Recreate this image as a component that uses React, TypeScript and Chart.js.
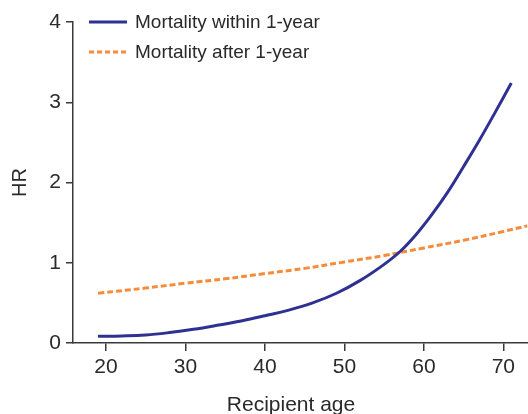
import React, { useEffect, useRef } from "react";
import { Chart, registerables } from "chart.js";

Chart.register(...registerables);

const withinAges = [19, 22, 25, 28, 31, 34, 37, 40, 43, 46, 49, 52, 55, 57, 59, 61, 63, 65, 67, 69, 71];
const withinHR = [0.083, 0.088, 0.1, 0.13, 0.17, 0.22, 0.275, 0.34, 0.41, 0.5, 0.62, 0.78, 0.98, 1.14, 1.35, 1.6, 1.88, 2.2, 2.53, 2.88, 3.24];

const afterAges = [19, 25, 30, 35, 40, 45, 50, 55, 60, 65, 70, 73];
const afterHR = [0.62, 0.685, 0.745, 0.8, 0.865, 0.93, 1.01, 1.09, 1.185, 1.28, 1.39, 1.46];

const xTicks = [20, 30, 40, 50, 60, 70];
const yTicks = [0, 1, 2, 3, 4];

const seriesNames = ["Mortality within 1-year", "Mortality after 1-year"];
const xTitle = "Recipient age";
const yTitle = "HR";
const BLUE = "#2E3192";
const ORANGE = "#F68B3C";
const TEXT = "#2a2a2a";
const AXIS = "#3a3a3a";
const FONT = "'Liberation Sans', Arial, sans-serif";

const xTitlePlugin = {
  id: "xTitlePlugin",
  afterDraw(chart: any) {
    const ctx = chart.ctx;
    ctx.save();
    ctx.font = `21px ${FONT}`;
    ctx.fillStyle = TEXT;
    ctx.textAlign = "center";
    ctx.textBaseline = "alphabetic";
    ctx.fillText(xTitle, 291, 410.5);
    ctx.restore();
  },
};

export default function App() {
  const ref = useRef<HTMLCanvasElement | null>(null);
  useEffect(() => {
    const canvas = ref.current;
    if (!canvas) return;
    const chart = new Chart(canvas, {
      type: "line",
      data: {
        datasets: [
          {
            label: seriesNames[0],
            data: withinAges.map((a, i) => ({ x: a, y: withinHR[i] })),
            borderColor: BLUE,
            backgroundColor: BLUE,
            borderWidth: 3,
            pointRadius: 0,
            tension: 0.4,
          },
          {
            label: seriesNames[1],
            data: afterAges.map((a, i) => ({ x: a, y: afterHR[i] })),
            borderColor: ORANGE,
            backgroundColor: ORANGE,
            borderWidth: 3,
            borderDash: [6, 3],
            pointRadius: 0,
            tension: 0.4,
          },
        ],
      },
      options: {
        animation: false,
        responsive: false,
        events: [],
        layout: { padding: { top: 22, left: 0, right: 0, bottom: 0 } },
        plugins: { legend: { display: false }, tooltip: { enabled: false } },
        scales: {
          x: {
            type: "linear",
            min: 15.85,
            max: 73.1,
            afterFit: (s: any) => {
              s.height = 71;
            },
            afterBuildTicks: (s: any) => {
              s.ticks = xTicks.map((v) => ({ value: v }));
            },
            border: { display: true, color: AXIS, width: 1.5 },
            grid: { display: true, drawOnChartArea: false, drawTicks: true, tickLength: 8, color: AXIS, lineWidth: 1.5 },
            ticks: { color: TEXT, font: { family: FONT, size: 21 }, padding: 4, maxRotation: 0 },
            title: { display: false, text: xTitle },
          },
          y: {
            type: "linear",
            min: 0,
            max: 4,
            afterFit: (s: any) => {
              s.width = 73;
            },
            afterBuildTicks: (s: any) => {
              s.ticks = yTicks.map((v) => ({ value: v }));
            },
            border: { display: true, color: AXIS, width: 1.5 },
            grid: { display: true, drawOnChartArea: false, drawTicks: true, tickLength: 7, color: AXIS, lineWidth: 1.5 },
            ticks: { color: TEXT, font: { family: FONT, size: 21 }, padding: 5 },
            title: { display: true, text: yTitle, color: TEXT, font: { family: FONT, size: 20 }, padding: { top: 8, bottom: 0 } },
          },
        },
      },
      plugins: [xTitlePlugin],
    });
    return () => chart.destroy();
  }, []);

  const legendItem = (label: string, color: string, dashed: boolean, top: number) => (
    <div style={{ position: "absolute", left: 89, top: top - 12, height: 24, display: "flex", alignItems: "center" }}>
      <svg width={38} height={6} style={{ display: "block" }}>
        <line x1={0} y1={3} x2={38} y2={3} stroke={color} strokeWidth={3} strokeDasharray={dashed ? "5 3" : undefined} />
      </svg>
      <span style={{ marginLeft: 8, fontFamily: FONT, fontSize: 19, color: TEXT, whiteSpace: "nowrap", lineHeight: "24px" }}>{label}</span>
    </div>
  );

  return (
    <div style={{ position: "fixed", left: 0, top: 0, width: 528, height: 414, background: "#fff" }}>
      <canvas ref={ref} width={528} height={414} style={{ display: "block", width: 528, height: 414 }} />
      {legendItem(seriesNames[0], BLUE, false, 22)}
      {legendItem(seriesNames[1], ORANGE, true, 52)}
    </div>
  );
}
